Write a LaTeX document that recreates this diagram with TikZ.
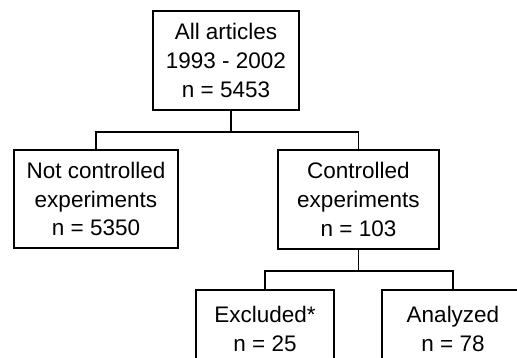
\documentclass[tikz,border=0pt]{standalone}
\usepackage{fontspec}
\setmainfont{Liberation Sans}
\usetikzlibrary{positioning, calc}

\begin{document}
\begin{tikzpicture}[
  font=\fontsize{16}{20.5}\selectfont,
  connector/.style={line width=1.2pt, draw=black},
  countbox/.style={draw=black, line width=1.2pt, align=center, inner sep=0pt}
]

  \useasboundingbox (0,0) rectangle (12.925,8.95);

  \node[countbox, minimum width=3.65cm, minimum height=2.475cm] (all) at (5.65,7.4375)
    {All articles\\1993 - 2002\\n = 5453};

  \node[countbox, minimum width=4.1cm, minimum height=2.45cm] (notctrl) at (2.4,3.975)
    {Not controlled\\experiments\\n = 5350};
  \node[countbox, minimum width=4.025cm, minimum height=2.475cm] (ctrl) at (8.9625,3.9625)
    {Controlled\\experiments\\n = 103};

  \node[countbox, minimum width=3.45cm, minimum height=1.95cm] (excl) at (6.625,0.725)
    {Excluded*\\n = 25};
  \node[countbox, minimum width=3.55cm, minimum height=1.95cm] (anal) at (11.325,0.725)
    {Analyzed\\n = 78};

  \coordinate (busTop) at (5.775,5.65);
  \coordinate (busBot) at (8.9625,2.175);

  \draw[connector] (all.south -| busTop) -- (busTop);
  \draw[connector] (notctrl.north) |- (busTop) -| (ctrl.north);

  \draw[connector] (ctrl.south) -- (busBot);
  \draw[connector] (excl.north) |- (busBot) -| (anal.north);

\end{tikzpicture}
\end{document}
